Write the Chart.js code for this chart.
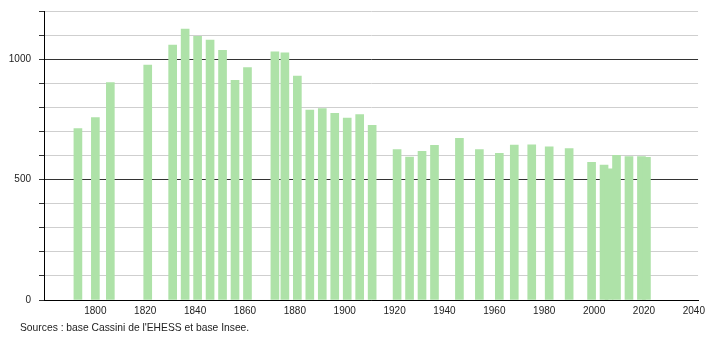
<!DOCTYPE html>
<html>
<head>
<meta charset="utf-8">
<script src="https://cdn.jsdelivr.net/npm/chart.js@4"></script>
<style>
    body { margin: 0; background: #fff; }
    #wrap { position: relative; width: 710px; height: 340px; }
    #source {
        position: absolute; left: 20px; top: 322px;
        font: 10.3px "Liberation Sans", Arial, sans-serif; color: #222;
    }
</style>
</head>
<body>
<div id="wrap">
    <canvas id="popChart" width="710" height="340"></canvas>
    <div id="source">Sources : base Cassini de l'EHESS et base Insee.</div>
</div>
<script>
// Années de recensement
const years = [1793, 1800, 1806, 1821, 1831, 1836, 1841, 1846, 1851, 1856, 1861,
    1872, 1876, 1881, 1886, 1891, 1896, 1901, 1906, 1911,
    1921, 1926, 1931, 1936, 1946, 1954, 1962, 1968, 1975, 1982, 1990,
    1999, 2004, 2006, 2009, 2014, 2019, 2021];

// Population
const population = [712, 757, 903, 975, 1058, 1125, 1095, 1079, 1037, 912, 965,
    1030, 1026, 930, 789, 795, 775, 755, 770, 725,
    625, 593, 617, 642, 671, 625, 609, 643, 644, 636, 629,
    572, 560, 545, 601, 595, 596, 592];

const xTicks = [1800, 1820, 1840, 1860, 1880, 1900, 1920, 1940, 1960, 1980, 2000, 2020, 2040];
const yTicks = [0, 100, 200, 300, 400, 500, 600, 700, 800, 900, 1000, 1100, 1200];
const yLabels = [0, 500, 1000];

const ctx = document.getElementById('popChart').getContext('2d');
new Chart(ctx, {
    type: 'bar',
    data: {
        datasets: [{
            data: years.map((y, i) => ({ x: y, y: population[i] })),
            backgroundColor: 'rgb(174, 226, 168)',
            borderWidth: 0,
            barThickness: 8
        }]
    },
    options: {
        responsive: false,
        animation: false,
        layout: { padding: { top: 11, right: 9, bottom: 19, left: 0 } },
        plugins: {
            legend: { display: false },
            tooltip: { enabled: false }
        },
        scales: {
            x: {
                type: 'linear',
                offset: false,
                min: 1779.4,
                max: 2041.7,
                afterBuildTicks: scale => { scale.ticks = xTicks.map(v => ({ value: v })); },
                afterFit: scale => { scale.height = 21; },
                grid: { drawOnChartArea: false, drawTicks: false },
                border: { color: '#000', width: 1 },
                ticks: {
                    padding: 5,
                    maxRotation: 0,
                    autoSkip: false,
                    color: '#222',
                    font: { family: '"Liberation Sans", Arial, sans-serif', size: 10 },
                    callback: v => String(v)
                }
            },
            y: {
                min: 0,
                max: 1200,
                afterBuildTicks: scale => { scale.ticks = yTicks.map(v => ({ value: v })); },
                afterFit: scale => {
                    scale.width = 44;
                    scale.paddingTop = 0;
                    scale.paddingBottom = 0;
                },
                grid: {
                    color: c => c.tick && c.tick.value % 500 === 0 ? '#333' : '#cfcfcf',
                    tickColor: '#333',
                    tickLength: 5
                },
                border: { color: '#000', width: 1 },
                ticks: {
                    padding: 8,
                    color: '#222',
                    font: { family: '"Liberation Sans", Arial, sans-serif', size: 10 },
                    callback: v => yLabels.includes(v) ? String(v) : ''
                }
            }
        }
    }
});
</script>
</body>
</html>
